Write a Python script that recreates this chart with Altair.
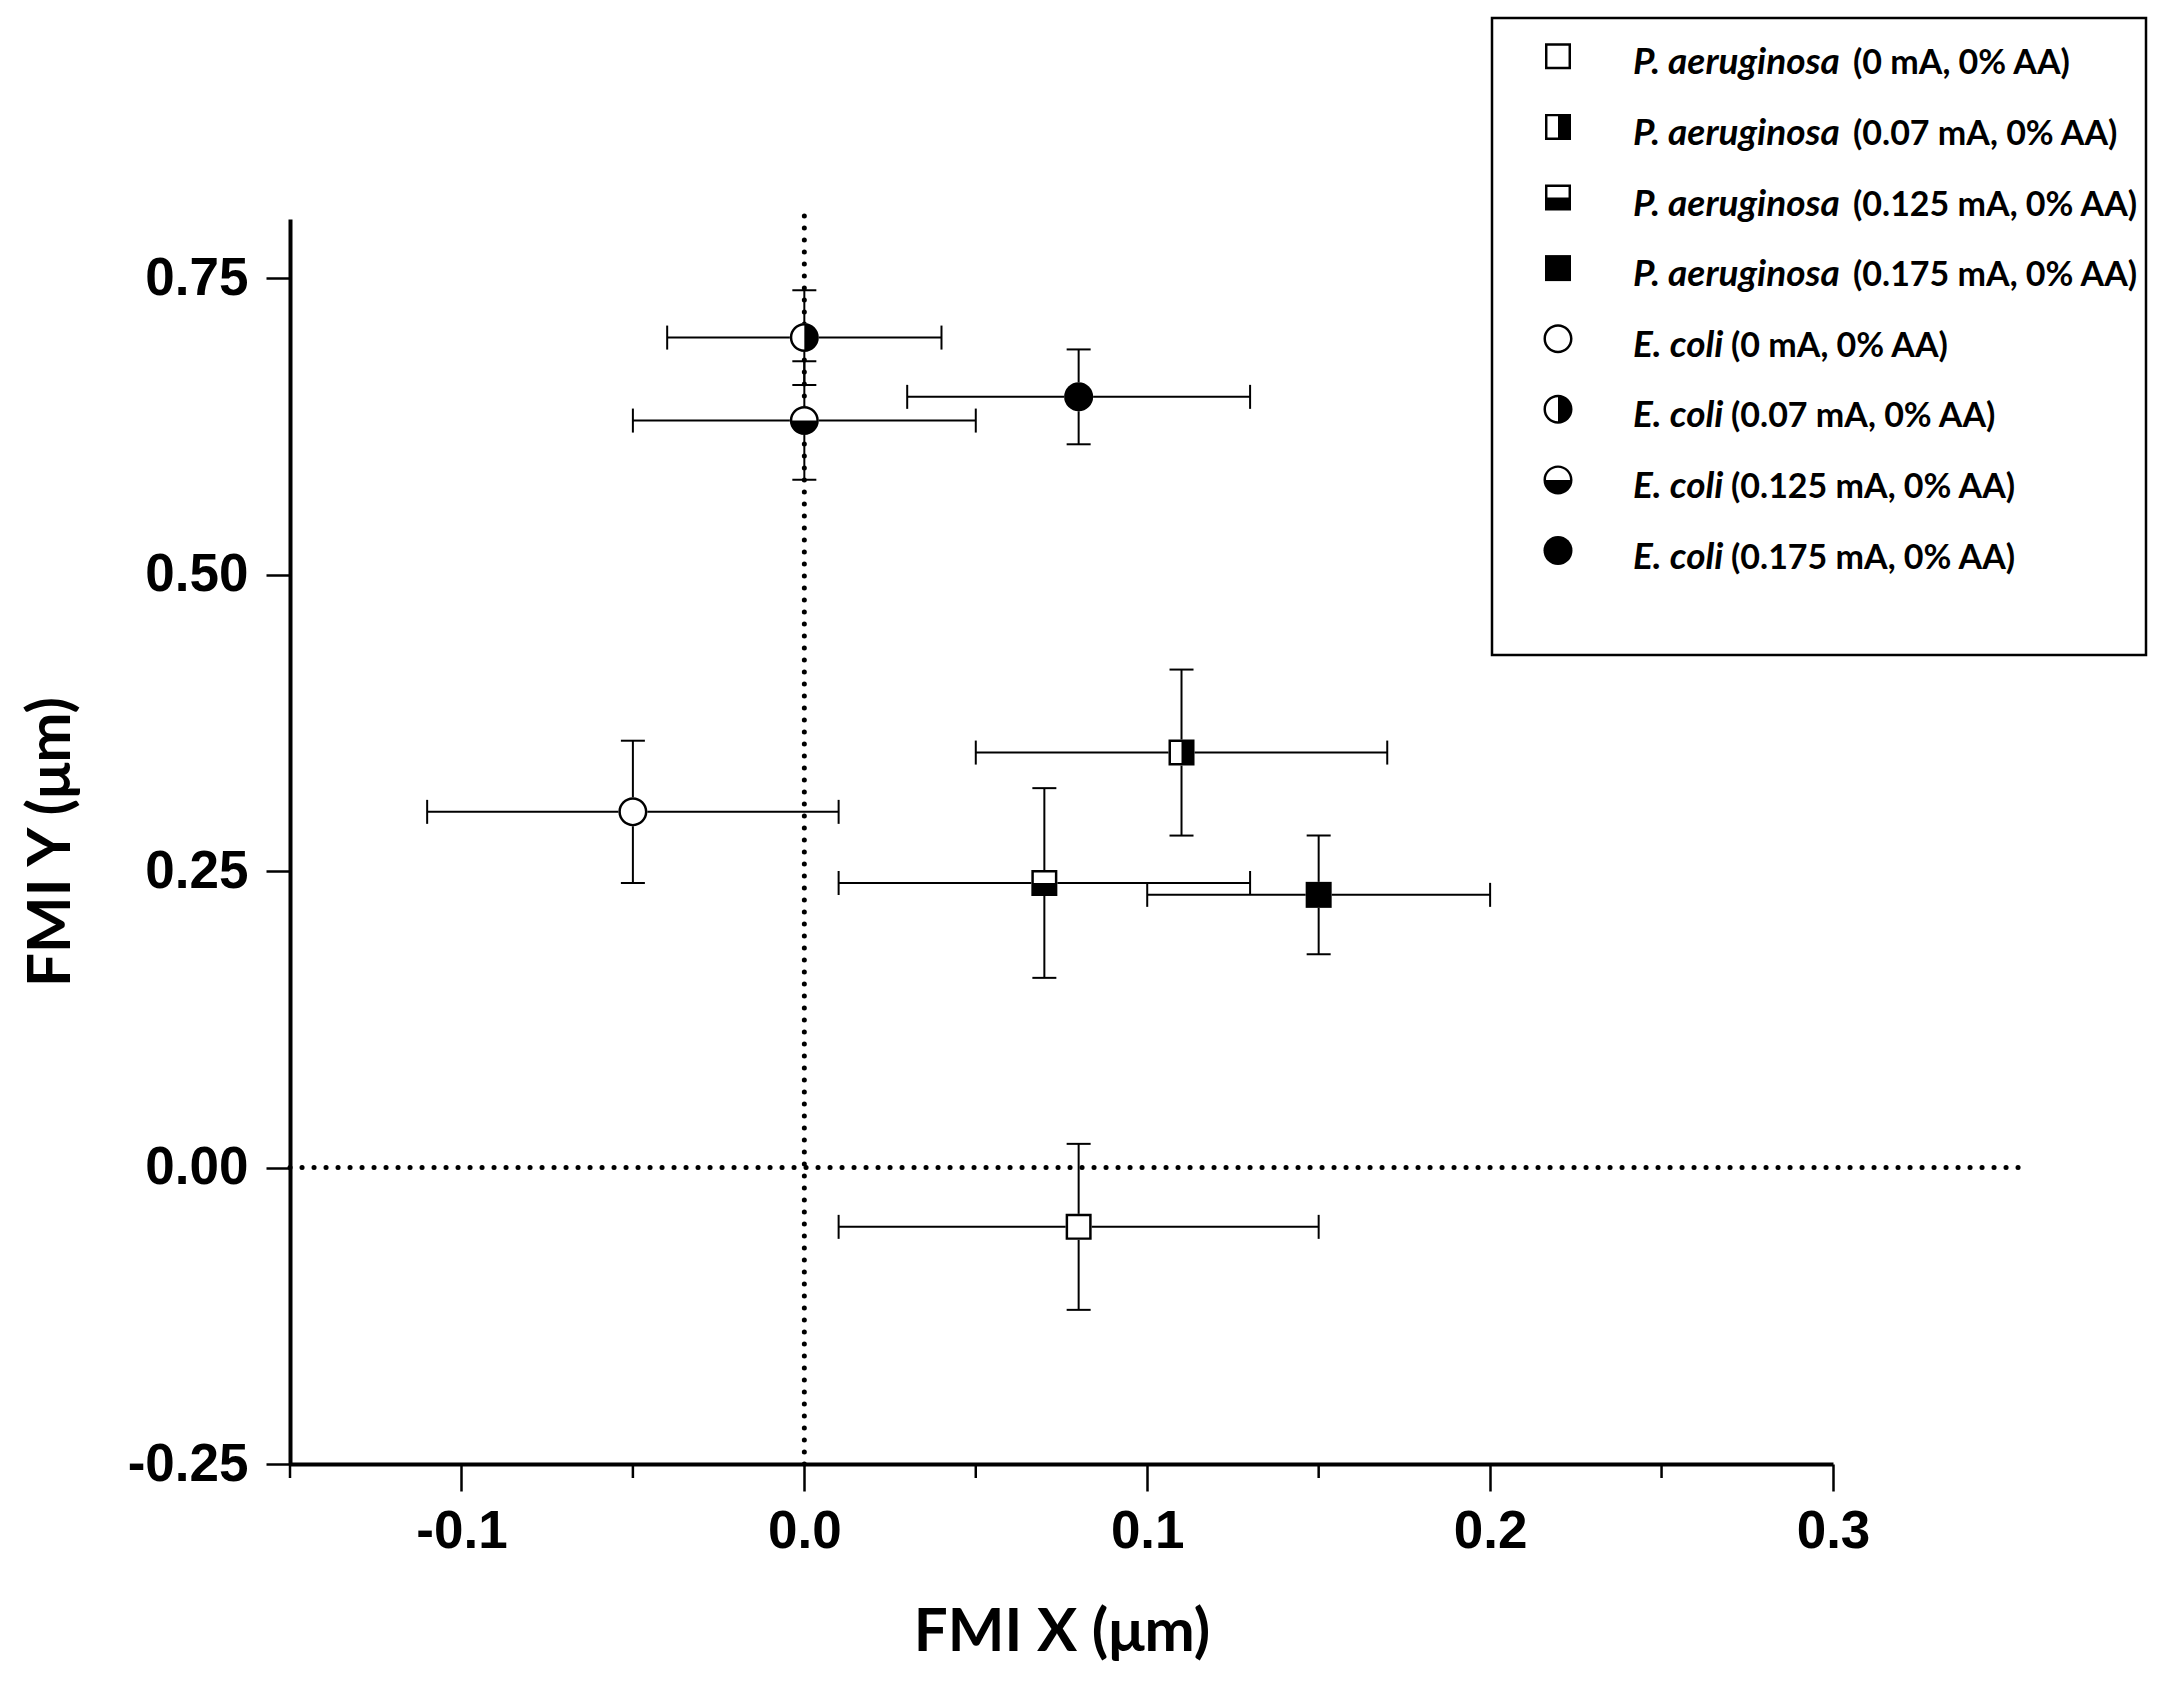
import altair as alt
import pandas as pd

# ---------------- data ----------------
species = ["P. aeruginosa"] * 4 + ["E. coli"] * 4
conditions = ["(0 mA, 0% AA)", "(0.07 mA, 0% AA)", "(0.125 mA, 0% AA)", "(0.175 mA, 0% AA)"] * 2
fmi_x = [0.08, 0.11, 0.07, 0.15, -0.05, 0.00, 0.00, 0.08]
fmi_y = [-0.05, 0.35, 0.24, 0.23, 0.30, 0.70, 0.63, 0.65]
x_err = [0.07, 0.06, 0.06, 0.05, 0.06, 0.04, 0.05, 0.05]
y_err = [0.07, 0.07, 0.08, 0.05, 0.06, 0.04, 0.05, 0.04]

x_ticks = [-0.1, 0.0, 0.1, 0.2, 0.3]
x_minor_ticks = [-0.15, -0.05, 0.05, 0.15, 0.25]
y_ticks = [-0.25, 0.0, 0.25, 0.50, 0.75]
x_domain = [-0.15, 0.3]
y_domain = [-0.25, 0.8]

# dotted reference lines (x = 0 and y = 0)
vline_x = [0.0]
vline_y = [-0.25]
vline_y2 = [0.807]
hline_y = [0.0]
hline_x = [-0.15]
hline_x2 = [0.357]

labels = [f"{s} {c}" for s, c in zip(species, conditions)]
df = pd.DataFrame(dict(species=species, cond=conditions, label=labels,
                       x=fmi_x, y=fmi_y, xerr=x_err, yerr=y_err,
                       idx=list(range(len(labels)))))

# ---------------- styling ----------------
W, H = 1543, 1245

# marker shapes: outline ring + partial fill as one black path
SQ_RING = "M-1,-1L1,-1L1,1L-1,1Z M-0.81,-0.81L-0.81,0.81L0.81,0.81L0.81,-0.81Z"
C_RING = ("M-1,0A1,1,0,1,1,1,0A1,1,0,1,1,-1,0Z "
          "M-0.83,0A0.83,0.83,0,1,0,0.83,0A0.83,0.83,0,1,0,-0.83,0Z")
shape_range = [
    SQ_RING,
    SQ_RING + " M0,-0.81L0.81,-0.81L0.81,0.81L0,0.81Z",
    SQ_RING + " M-0.81,0L0.81,0L0.81,0.81L-0.81,0.81Z",
    "square",
    C_RING,
    C_RING + " M0,-0.83A0.83,0.83,0,0,1,0,0.83Z",
    C_RING + " M-0.83,0A0.83,0.83,0,0,0,0.83,0Z",
    "circle",
]
shape_scale = alt.Scale(domain=labels, range=shape_range)
SQ_SIZE = 676
C_SIZE = 841

lab_x = "datum.value < 0 ? '-' + format(-datum.value, '.1f') : format(datum.value, '.1f')"
lab_y = "datum.value < 0 ? '-' + format(-datum.value, '.2f') : format(datum.value, '.2f')"

common_axis = dict(tickWidth=2.5, tickColor="black", domainColor="black", domainWidth=4,
                   labelFont="Liberation Sans", labelFontSize=53, labelFontWeight="bold",
                   labelColor="black", titleFont="Lato", titleFontSize=60,
                   titleFontWeight="bold", titleColor="black", grid=False,
                   labelFlush=False, labelOverlap=False)
x_axis = alt.Axis(values=x_ticks, labelExpr=lab_x, tickSize=27, labelPadding=14,
                  titlePadding=45, **common_axis)
y_axis = alt.Axis(values=y_ticks, labelExpr=lab_y, tickSize=24, labelPadding=18,
                  titlePadding=45, **common_axis)
x_scale = alt.Scale(domain=x_domain, nice=False, zero=False)
y_scale = alt.Scale(domain=y_domain, nice=False, zero=False)


def X(field):
    return alt.X(field, type="quantitative", scale=x_scale, axis=x_axis, title="FMI X (μm)")


def Y(field):
    return alt.Y(field, type="quantitative", scale=y_scale, axis=y_axis, title="FMI Y (μm)")


base = alt.Chart(df).transform_calculate(
    xlo="datum.x - datum.xerr", xhi="datum.x + datum.xerr",
    ylo="datum.y - datum.yerr", yhi="datum.y + datum.yerr")

dot_style = dict(color="black", strokeWidth=5, strokeDash=[0.1, 11.9], strokeCap="round", clip=False)
vline = alt.Chart(pd.DataFrame({"x": vline_x, "y": vline_y, "y2": vline_y2})).mark_rule(**dot_style).encode(
    x=X("x"), y=Y("y"), y2="y2:Q")
hline = alt.Chart(pd.DataFrame({"y": hline_y, "x": hline_x, "x2": hline_x2})).mark_rule(**dot_style).encode(
    x=X("x"), x2="x2:Q", y=Y("y"))

minor = alt.Chart(pd.DataFrame({"x": x_minor_ticks})).mark_rule(color="black", strokeWidth=2.5).encode(
    x=X("x"), y=alt.value(H), y2=alt.value(H + 14))

err_style = dict(color="black", strokeWidth=2)
hbar = base.mark_rule(**err_style).encode(x=X("xlo:Q"), x2="xhi:Q", y=Y("y:Q"))
vbar = base.mark_rule(**err_style).encode(x=X("x:Q"), y=Y("ylo:Q"), y2="yhi:Q")
cap_v = dict(orient="vertical", size=24, thickness=2, color="black", opacity=1)
cap_h = dict(orient="horizontal", size=24, thickness=2, color="black", opacity=1)
c1 = base.mark_tick(**cap_v).encode(x=X("xlo:Q"), y=Y("y:Q"))
c2 = base.mark_tick(**cap_v).encode(x=X("xhi:Q"), y=Y("y:Q"))
c3 = base.mark_tick(**cap_h).encode(x=X("x:Q"), y=Y("ylo:Q"))
c4 = base.mark_tick(**cap_h).encode(x=X("x:Q"), y=Y("yhi:Q"))

is_p = "datum.species == 'P. aeruginosa'"
is_e = "datum.species == 'E. coli'"
white_sq = base.transform_filter(is_p).mark_point(
    shape="square", filled=True, color="white", opacity=1, size=SQ_SIZE, strokeWidth=0).encode(
    x=X("x:Q"), y=Y("y:Q"))
white_c = base.transform_filter(is_e).mark_point(
    shape="circle", filled=True, color="white", opacity=1, size=C_SIZE, strokeWidth=0).encode(
    x=X("x:Q"), y=Y("y:Q"))
mk_sq = base.transform_filter(is_p).mark_point(
    filled=True, color="black", opacity=1, size=SQ_SIZE, strokeWidth=0).encode(
    x=X("x:Q"), y=Y("y:Q"), shape=alt.Shape("label:N", scale=shape_scale, legend=None))
mk_c = base.transform_filter(is_e).mark_point(
    filled=True, color="black", opacity=1, size=C_SIZE, strokeWidth=0).encode(
    x=X("x:Q"), y=Y("y:Q"), shape=alt.Shape("label:N", scale=shape_scale, legend=None))

main = alt.layer(vline, hline, minor, hbar, vbar, c1, c2, c3, c4, white_sq, white_c, mk_sq, mk_c)

# ---------------- hand-built legend (mixed italic / upright text) ----------------
leg_y = alt.Y("idx:Q", scale=alt.Scale(domain=[0, 7], range=[-162.7, 331.5]), axis=None)
leg = alt.Chart(df)
box = alt.Chart(pd.DataFrame({"a": [0]})).mark_rect(
    filled=False, stroke="black", strokeWidth=2.5).encode(
    x=alt.value(1202), x2=alt.value(1856), y=alt.value(-201), y2=alt.value(436))
lsym_sq = leg.transform_filter(is_p).mark_point(
    filled=True, color="black", opacity=1, size=SQ_SIZE, strokeWidth=0).encode(
    x=alt.value(1268), y=leg_y, shape=alt.Shape("label:N", scale=shape_scale, legend=None))
lsym_c = leg.transform_filter(is_e).mark_point(
    filled=True, color="black", opacity=1, size=C_SIZE, strokeWidth=0).encode(
    x=alt.value(1268), y=leg_y, shape=alt.Shape("label:N", scale=shape_scale, legend=None))
txt = dict(font="Lato", fontWeight="bold", color="black", align="left",
           baseline="alphabetic", dy=18)
lsp = leg.mark_text(fontStyle="italic", fontSize=37, **txt).encode(
    x=alt.value(1343), y=leg_y, text="species:N")
lcond_p = leg.transform_filter(is_p).mark_text(fontSize=34, **txt).encode(
    x=alt.value(1563), y=leg_y, text="cond:N")
lcond_e = leg.transform_filter(is_e).mark_text(fontSize=34, **txt).encode(
    x=alt.value(1441), y=leg_y, text="cond:N")
legend = alt.layer(box, lsym_sq, lsym_c, lsp, lcond_p, lcond_e)

chart = alt.layer(main, legend).resolve_scale(y="independent").properties(
    width=W, height=H,
    autosize=alt.AutoSizeParams(type="none"),
    padding={"left": 282, "top": 211, "right": 320, "bottom": 205},
    background="white",
).configure_view(strokeWidth=0)

chart.save("out.html", embed_options={"renderer": "svg", "actions": False})
